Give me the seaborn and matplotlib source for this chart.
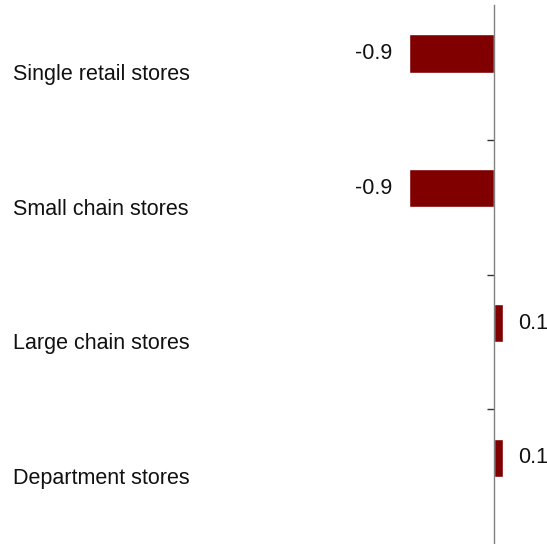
import matplotlib
matplotlib.use("Agg")
import matplotlib.pyplot as plt
import matplotlib.transforms as mtransforms
import seaborn as sns

# data
categories = ["Single retail stores", "Small chain stores", "Large chain stores", "Department stores"]
values = [-0.9, -0.9, 0.1, 0.1]

sns.set_style("white")
plt.rcParams["font.family"] = ["Liberation Sans", "DejaVu Sans"]

fig = plt.figure(figsize=(5.47, 5.44), dpi=100)
ax = fig.add_axes([300 / 547, 0.0, 247 / 547, 539 / 544])

sns.barplot(x=values, y=categories, orient="h", color="#800000",
            width=0.285, saturation=1, ax=ax)

ax.set_xlim(-2.05, 0.565)
ax.set_ylim(3.64, -0.36)

# spine on x = 0, other spines hidden
for side in ["top", "right", "bottom"]:
    ax.spines[side].set_visible(False)
ax.spines["left"].set_position(("data", 0))
ax.spines["left"].set_color("#808080")
ax.spines["left"].set_linewidth(1)

ax.set_xticks([])
ax.set_yticks([i + 0.64 for i in range(len(categories) - 1)])
ax.set_yticklabels([])
ax.tick_params(axis="y", direction="out", length=5, width=1, color="#333333", left=True)
ax.set_xlabel("")
ax.set_ylabel("")

# category labels, centred in the left area
trans = mtransforms.blended_transform_factory(fig.transFigure, ax.transData)
for i, cat in enumerate(categories):
    ax.text(101 / 547, i + 0.155, cat, transform=trans, ha="center", va="center",
            fontsize=15.5, color="#111111")

# value labels
for i, v in enumerate(values):
    if v < 0:
        ax.annotate(f"{v:.1f}", (v, i), xytext=(-11.5, 0), textcoords="offset points",
                    ha="right", va="center", fontsize=15.5, color="#111111")
    else:
        ax.annotate(f"{v:.1f}", (v, i), xytext=(10.5, 0), textcoords="offset points",
                    ha="left", va="center", fontsize=15.5, color="#111111")

fig.savefig("out.png", dpi=100)
